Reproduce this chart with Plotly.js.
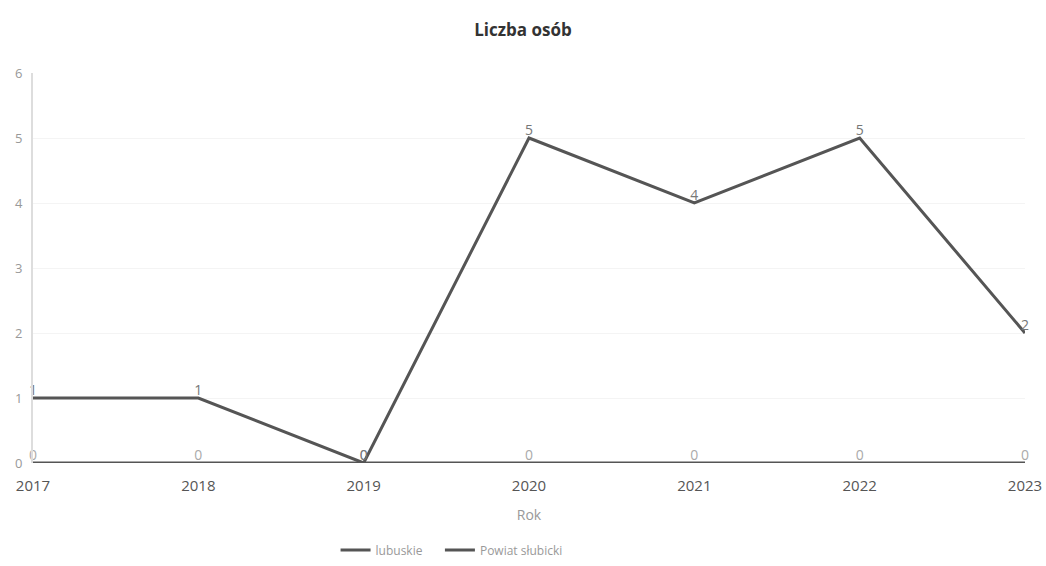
<!DOCTYPE html>
<html><head><meta charset="utf-8">
<script src="https://cdn.plot.ly/plotly-3.0.1.min.js"></script>
<style>html,body{margin:0;padding:0;background:#fff}#chart{width:1046px;height:566px}</style>
</head><body><div id="chart"></div>
<script>
const years = [2017, 2018, 2019, 2020, 2021, 2022, 2023];
const lubuskie = [0, 0, 0, 0, 0, 0, 0];
const powiatSlubicki = [1, 1, 0, 5, 4, 5, 2];
const seriesNames = ['lubuskie', 'Powiat słubicki'];

const pad = '\u00a0\u00a0\u00a0\u00a0';
const traces = [
  {x: years, y: lubuskie, name: seriesNames[0] + pad, type: 'scatter', mode: 'lines+text',
   text: lubuskie.map(String), textposition: 'top center',
   textfont: {family: 'Open Sans, sans-serif', size: 14, color: '#aaaaaa'},
   line: {color: '#555555', width: 3}, cliponaxis: false},
  {x: years, y: powiatSlubicki, name: seriesNames[1], type: 'scatter', mode: 'lines+text',
   text: powiatSlubicki.map(String), textposition: 'top center',
   textfont: {family: 'Open Sans, sans-serif', size: 14, color: '#777777'},
   line: {color: '#555555', width: 3}, cliponaxis: false}
];

const layout = {
  width: 1046, height: 566,
  margin: {l: 33, r: 21, t: 73, b: 103, autoexpand: false},
  paper_bgcolor: '#ffffff', plot_bgcolor: '#ffffff',
  title: {text: '<b>Liczba osób</b>', x: 0.5, xanchor: 'center', yref: 'container', y: 1 - 30/566, yanchor: 'middle',
          font: {family: 'Open Sans, sans-serif', size: 17, color: '#333333'}},
  font: {family: 'Open Sans, sans-serif'},
  xaxis: {range: [2017, 2023], tickvals: years, ticktext: years.map(String),
          showgrid: false, zeroline: false, showline: false, ticks: '',
          ticklabelstandoff: 12,
          tickfont: {size: 15, color: '#555555'},
          title: {text: 'Rok', font: {size: 14, color: '#999999'}, standoff: 16}},
  yaxis: {range: [0, 6], dtick: 1, showgrid: true, gridcolor: '#f4f4f4',
          zeroline: false, showline: true, linecolor: '#dddddd', linewidth: 2, ticks: '',
          ticklabelstandoff: 6,
          tickfont: {size: 13, color: '#999999'}},
  legend: {orientation: 'h', x: 0.305, xanchor: 'left', yref: 'container', y: 16/566, yanchor: 'middle',
           itemwidth: 30,
           font: {size: 12, color: '#999999'}},
  showlegend: true
};

Plotly.newPlot('chart', traces, layout, {displayModeBar: false, staticPlot: true});
</script></body></html>
